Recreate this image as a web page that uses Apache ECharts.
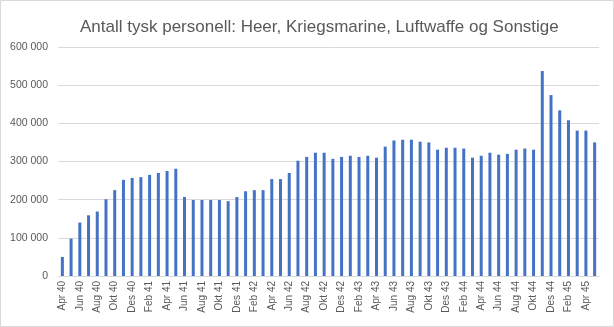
<!DOCTYPE html>
<html><head><meta charset="utf-8">
<script src="https://cdn.jsdelivr.net/npm/echarts@6/dist/echarts.min.js"></script>
<style>html,body{margin:0;padding:0;background:#fff}#c{width:614px;height:327px}</style>
</head><body><div id="c"></div>
<script>
const categories = [
 'Apr 40','Mai 40','Jun 40','Jul 40','Aug 40','Sep 40','Okt 40','Nov 40','Des 40',
 'Jan 41','Feb 41','Mar 41','Apr 41','Mai 41','Jun 41','Jul 41','Aug 41','Sep 41','Okt 41','Nov 41','Des 41',
 'Jan 42','Feb 42','Mar 42','Apr 42','Mai 42','Jun 42','Jul 42','Aug 42','Sep 42','Okt 42','Nov 42','Des 42',
 'Jan 43','Feb 43','Mar 43','Apr 43','Mai 43','Jun 43','Jul 43','Aug 43','Sep 43','Okt 43','Nov 43','Des 43',
 'Jan 44','Feb 44','Mar 44','Apr 44','Mai 44','Jun 44','Jul 44','Aug 44','Sep 44','Okt 44','Nov 44','Des 44',
 'Jan 45','Feb 45','Mar 45','Apr 45','Mai 45'
];
const personnel = [
 50000, 98000, 140000, 159000, 169000, 201000, 225000, 252000, 257000,
 259000, 265000, 270000, 275000, 281000, 207000, 199000, 199000, 199000, 199000, 196000, 207000,
 222000, 225000, 225000, 254000, 254000, 270000, 302000, 312000, 323000, 323000, 307000, 312000,
 315000, 312000, 315000, 310000, 339000, 355000, 357000, 357000, 352000, 350000, 331000, 336000,
 336000, 334000, 310000, 315000, 323000, 318000, 320000, 331000, 334000, 331000, 537000, 474000,
 434000, 408000, 381000, 381000, 350000
];
const yTicks = [0, 100000, 200000, 300000, 400000, 500000, 600000];
const titleText = 'Antall tysk personell: Heer, Kriegsmarine, Luftwaffe og Sonstige';

const chart = echarts.init(document.getElementById('c'), null, {renderer:'canvas'});
chart.setOption({
  animation:false,
  backgroundColor:'#fff',
  title:{text:titleText,left:75,top:14,textStyle:{fontFamily:'Liberation Sans',fontWeight:'normal',fontSize:17,color:'#595959'}},
  graphic:[{type:'rect',shape:{x:0.5,y:0.5,width:613,height:326},style:{fill:'none',stroke:'#d9d9d9',lineWidth:1},silent:true}],
  grid:{left:58,right:15,top:47,bottom:51,containLabel:false},
  xAxis:{type:'category',data:categories,
    axisLine:{lineStyle:{color:'#d9d9d9'}},axisTick:{show:false},
    axisLabel:{interval:1,rotate:90,color:'#595959',fontSize:10,fontFamily:'Liberation Sans',margin:5}},
  yAxis:{type:'value',min:yTicks[0],max:yTicks[yTicks.length-1],interval:100000,
    axisLine:{show:false},axisTick:{show:false},
    splitLine:{lineStyle:{color:'#d9d9d9'}},
    axisLabel:{color:'#595959',fontSize:10.5,fontFamily:'Liberation Sans',margin:10,
      formatter:v=>String(v).replace(/\B(?=(\d{3})+(?!\d))/g,' ')}},
  series:[{type:'bar',data:personnel,barWidth:3,itemStyle:{color:'#4472C4'}}]
});
</script></body></html>
